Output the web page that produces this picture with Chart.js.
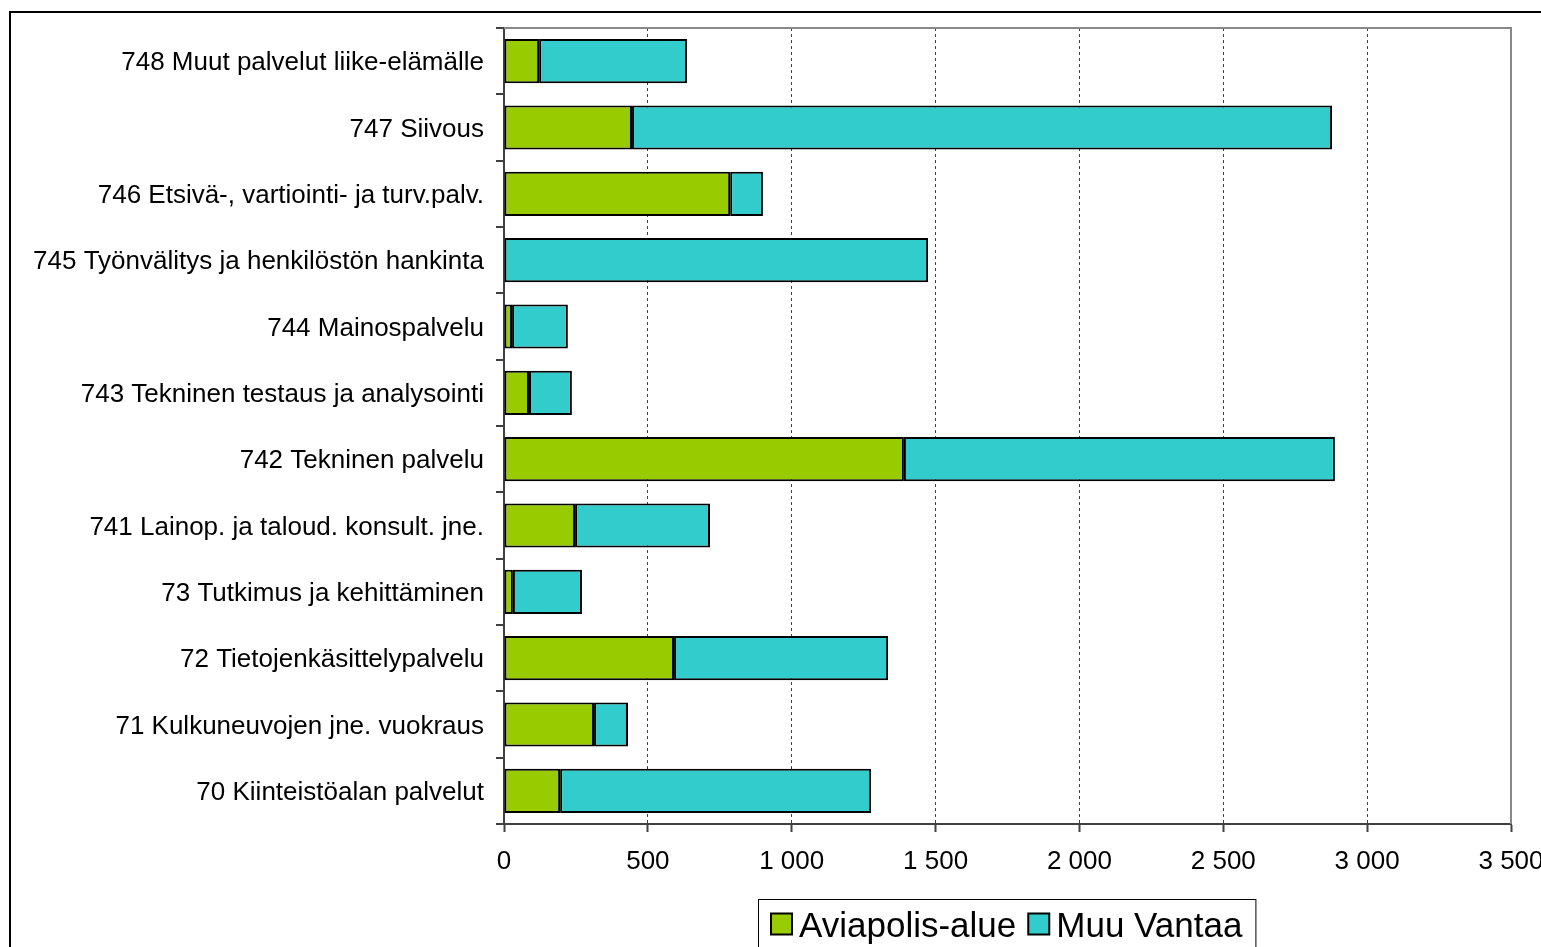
<!DOCTYPE html>
<html>
<head>
<meta charset="utf-8">
<script src="https://cdn.jsdelivr.net/npm/chart.js@4.4.1/dist/chart.umd.min.js"></script>
<style>
  html, body { margin: 0; padding: 0; background: #fff; overflow: hidden; }
  #wrap { width: 1541px; height: 947px; position: relative; }
</style>
</head>
<body>
<div id="wrap"><canvas id="chart" width="1541" height="947"></canvas></div>
<script>
const categories = [
  '748 Muut palvelut liike-elämälle',
  '747 Siivous',
  '746 Etsivä-, vartiointi- ja turv.palv.',
  '745 Työnvälitys ja henkilöstön hankinta',
  '744 Mainospalvelu',
  '743 Tekninen testaus ja analysointi',
  '742 Tekninen palvelu',
  '741 Lainop. ja taloud. konsult. jne.',
  '73 Tutkimus ja kehittäminen',
  '72 Tietojenkäsittelypalvelu',
  '71 Kulkuneuvojen jne. vuokraus',
  '70 Kiinteistöalan palvelut'
];
const aviapolis = [122, 445, 786, 0, 28, 87, 1390, 247, 31, 591, 313, 195];
const muuVantaa = [514, 2433, 114, 1474, 194, 149, 1498, 469, 240, 744, 118, 1081];
const seriesNames = ['Aviapolis-alue', 'Muu Vantaa'];
const seriesColors = ['#99CC00', '#33CCCC'];
const xMax = 3500;
const xStep = 500;

const font = "Arial, 'Liberation Sans', sans-serif";

const formatThousands = (v) => String(v).replace(/\B(?=(\d{3})+(?!\d))/g, ' ');

const framePlugin = {
  id: 'frame',
  beforeDraw(chart) {
    const { ctx } = chart;
    ctx.save();
    ctx.strokeStyle = '#000';
    ctx.lineWidth = 2;
    ctx.strokeRect(10, 12, 2000, 2000);
    ctx.restore();
  },
  afterDatasetsDraw(chart) {
    const { ctx, chartArea } = chart;
    ctx.save();
    ctx.strokeStyle = '#888';
    ctx.lineWidth = 2;
    ctx.beginPath();
    ctx.moveTo(chartArea.left, chartArea.top);
    ctx.lineTo(chartArea.right, chartArea.top);
    ctx.lineTo(chartArea.right, chartArea.bottom);
    ctx.stroke();
    ctx.restore();
  }
};

const legendPlugin = {
  id: 'boxLegend',
  afterDraw(chart) {
    const { ctx, chartArea } = chart;
    const sq = 21, gap = 7, itemGap = 12, pad = 13;
    ctx.save();
    ctx.font = `35px ${font}`;
    const widths = chart.data.datasets.map((d) => ctx.measureText(d.label).width);
    let total = pad * 2;
    widths.forEach((w, i) => { total += sq + gap + w + (i > 0 ? itemGap : 0); });
    const top = 899, height = 48;
    const left = Math.round((chartArea.left + chartArea.right) / 2 - total / 2) - 1;
    ctx.fillStyle = '#fff';
    ctx.fillRect(left, top, total, height);
    ctx.strokeStyle = '#000';
    ctx.lineWidth = 1;
    ctx.strokeRect(left + 0.5, top + 0.5, total, height);
    let x = left + pad;
    const cy = top + 25;
    chart.data.datasets.forEach((d, i) => {
      if (i > 0) x += itemGap;
      ctx.fillStyle = d.backgroundColor;
      ctx.fillRect(x, cy - sq / 2, sq, sq);
      ctx.strokeStyle = '#000';
      ctx.lineWidth = 2;
      ctx.strokeRect(x, cy - sq / 2, sq, sq);
      x += sq + gap;
      ctx.fillStyle = '#000';
      ctx.textBaseline = 'middle';
      ctx.fillText(d.label, x, cy + 3);
      x += widths[i];
    });
    ctx.restore();
  }
};

new Chart(document.getElementById('chart'), {
  type: 'bar',
  data: {
    labels: categories,
    datasets: [
      { label: seriesNames[0], data: aviapolis, backgroundColor: seriesColors[0] },
      { label: seriesNames[1], data: muuVantaa, backgroundColor: seriesColors[1] }
    ]
  },
  options: {
    indexAxis: 'y',
    responsive: false,
    animation: false,
    layout: { padding: { top: 28, right: 30, left: 0, bottom: 0 } },
    datasets: {
      bar: {
        borderColor: '#000',
        borderWidth: 2,
        borderSkipped: false,
        barPercentage: 0.667,
        categoryPercentage: 1
      }
    },
    plugins: {
      legend: { display: false },
      tooltip: { enabled: false }
    },
    scales: {
      x: {
        stacked: true,
        min: 0,
        max: xMax,
        ticks: {
          stepSize: xStep,
          color: '#000',
          font: { family: font, size: 26 },
          padding: 14,
          maxRotation: 0,
          callback: (v) => formatThousands(v)
        },
        grid: {
          color: '#404040',
          lineWidth: 1,
          tickLength: 8,
          tickColor: '#404040',
          tickWidth: 2,
          tickBorderDash: []
        },
        border: { display: true, color: '#404040', width: 2, dash: [3, 3] },
        afterFit(scale) {
          scale.height = 123;
          scale.paddingLeft = 0;
          scale.paddingRight = 0;
        }
      },
      y: {
        stacked: true,
        ticks: {
          color: '#000',
          font: { family: font, size: 26 },
          padding: 12,
          labelOffset: 2
        },
        grid: {
          drawOnChartArea: false,
          tickLength: 8,
          color: '#404040',
          lineWidth: 2
        },
        border: { display: true, color: '#404040', width: 2 },
        afterFit(scale) {
          scale.width = 504;
          scale.paddingTop = 0;
          scale.paddingBottom = 0;
        }
      }
    }
  },
  plugins: [framePlugin, legendPlugin]
});
</script>
</body>
</html>
